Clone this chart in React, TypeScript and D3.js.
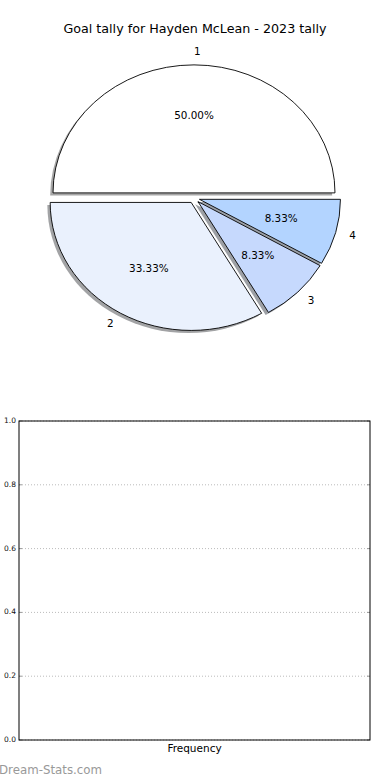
import * as d3 from "d3";

const title = "Goal tally for Hayden McLean - 2023 tally";
const sliceLabels = ["1", "2", "3", "4"];
const sliceValues = [6, 4, 1, 1];
const sliceColors = ["#ffffff", "#eaf1fd", "#c6d9fd", "#b3d4ff"];
const yTicks = [0, 0.2, 0.4, 0.6, 0.8, 1.0];
const xLabel = "Frequency";

const W = 390;
const H = 780;
const FONT = "DejaVu Sans, sans-serif";

// pie geometry (axes not square, so the pie is an ellipse)
const cx = 194;
const cy = 198;
const rx = 141;
const ry = 128;
const explode = 0.04;

const px = d3.scaleLinear().domain([-1, 1]).range([cx - rx, cx + rx]);
const py = d3.scaleLinear().domain([-1, 1]).range([cy + ry, cy - ry]);

// lower (empty) axes
const ax = { left: 19, right: 370, top: 421, bottom: 740 };
const y = d3.scaleLinear().domain([0, 1]).range([ax.bottom, ax.top]);

export default function App() {
  const total = d3.sum(sliceValues);
  const arcs = d3
    .pie<number>()
    .sort(null)
    .startAngle(Math.PI / 2)
    .endAngle(Math.PI / 2 - 2 * Math.PI)(sliceValues);

  const unitArc = d3.arc<d3.PieArcDatum<number>>().innerRadius(0).outerRadius(1);

  const wedges = arcs.map((a, i) => {
    const m = (a.startAngle + a.endAngle) / 2;
    const ux = Math.sin(m);
    const uy = Math.cos(m);
    return {
      i,
      d: unitArc(a) as string,
      ox: px(explode * ux),
      oy: py(explode * uy),
      lx: px((explode + 1.1) * ux),
      ly: py((explode + 1.1) * uy),
      tx: px((explode + 0.6) * ux),
      ty: py((explode + 0.6) * uy),
      anchor: ux > -1e-12 ? "start" : "end",
      pct: ((sliceValues[i] / total) * 100).toFixed(2) + "%",
    };
  });

  const shadowColor = (c: string) => {
    const rgb = d3.rgb(c);
    return d3.rgb(rgb.r * 0.3, rgb.g * 0.3, rgb.b * 0.3).formatHex();
  };
  const sdx = px(-0.02) - px(0);
  const sdy = py(-0.02) - py(0);

  return (
    <svg
      width={W}
      height={H}
      style={{ position: "absolute", left: 0, top: 0, background: "#fff" }}
      fontFamily={FONT}
    >
      <text x={195} y={29} textAnchor="middle" dominantBaseline="middle" fontSize={12.7} fill="#000">
        {title}
      </text>

      {/* shadows */}
      {wedges.map((w) => (
        <path
          key={"s" + w.i}
          d={w.d}
          transform={`translate(${w.ox + sdx},${w.oy + sdy}) scale(${rx},${ry})`}
          fill={shadowColor(sliceColors[w.i])}
          fillOpacity={0.5}
          stroke="none"
        />
      ))}
      {/* wedges */}
      {wedges.map((w) => (
        <path
          key={"w" + w.i}
          d={w.d}
          transform={`translate(${w.ox},${w.oy}) scale(${rx},${ry})`}
          fill={sliceColors[w.i]}
          stroke="#000"
          strokeWidth={0.9}
          vectorEffect="non-scaling-stroke"
        />
      ))}
      {wedges.map((w) => (
        <g key={"t" + w.i} fontSize={10.4} fill="#000">
          <text x={w.lx} y={w.ly} textAnchor={w.anchor} dominantBaseline="middle">
            {sliceLabels[w.i]}
          </text>
          <text x={w.tx} y={w.ty} textAnchor="middle" dominantBaseline="middle">
            {w.pct}
          </text>
        </g>
      ))}

      {/* empty frequency axes */}
      {yTicks.map((t) => (
        <g key={"g" + t}>
          <line
            x1={ax.left}
            x2={ax.right}
            y1={y(t)}
            y2={y(t)}
            stroke="#bbbbbb"
            strokeWidth={1}
            strokeDasharray="1,2"
          />
          <line x1={ax.left} x2={ax.left + 3} y1={y(t)} y2={y(t)} stroke="#999" strokeWidth={1} />
          <line x1={ax.right - 3} x2={ax.right} y1={y(t)} y2={y(t)} stroke="#999" strokeWidth={1} />
          <text
            x={ax.left - 3}
            y={y(t)}
            textAnchor="end"
            dominantBaseline="middle"
            fontSize={7.5}
            fill="#111"
          >
            {d3.format(".1f")(t)}
          </text>
        </g>
      ))}
      <rect
        x={ax.left}
        y={ax.top}
        width={ax.right - ax.left}
        height={ax.bottom - ax.top}
        fill="none"
        stroke="#000"
        strokeWidth={1}
      />
      <text x={(ax.left + ax.right) / 2} y={749} textAnchor="middle" dominantBaseline="middle" fontSize={10.5} fill="#000">
        {xLabel}
      </text>

      <text x={-1} y={770} dominantBaseline="middle" fontSize={11.8} fill="#999999">
        Dream-Stats.com
      </text>
    </svg>
  );
}
